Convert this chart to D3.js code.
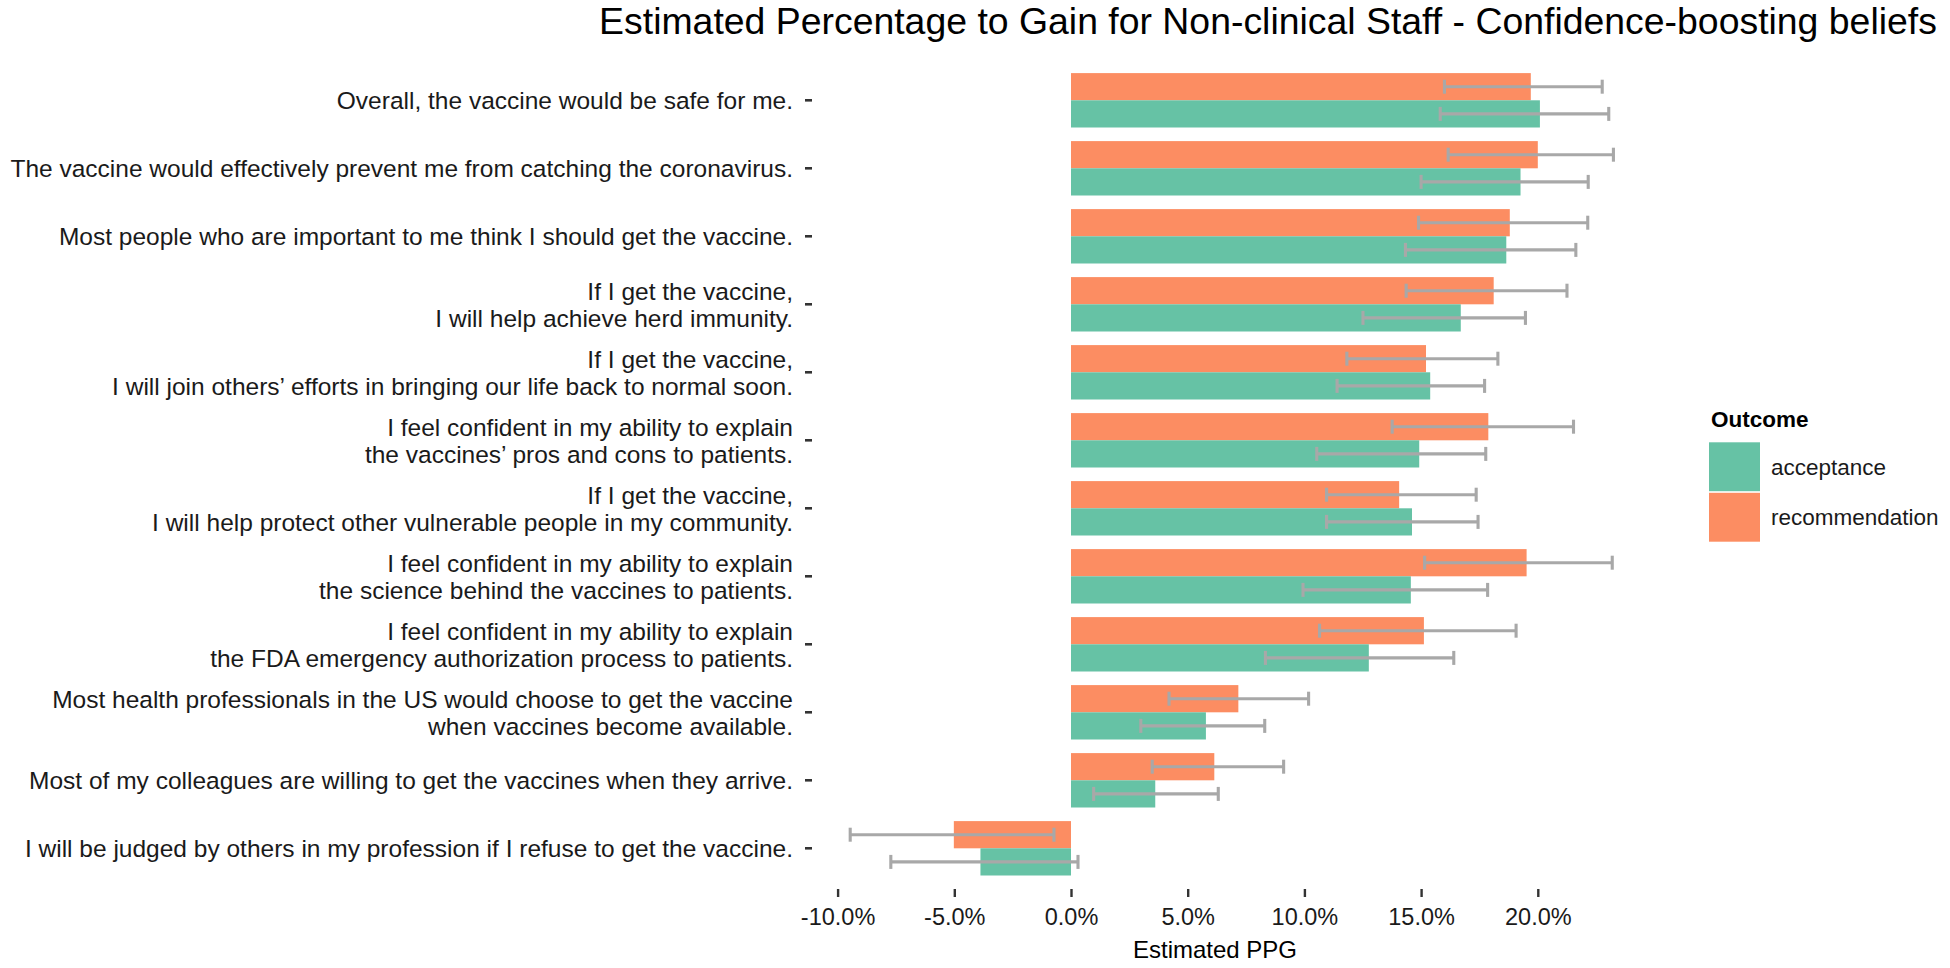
<!DOCTYPE html>
<html>
<head>
<meta charset="utf-8">
<script src="https://cdn.jsdelivr.net/npm/d3@7"></script>
<style>
  html, body { margin: 0; padding: 0; background: #fff; }
  svg { display: block; font-family: "Liberation Sans", Arial, Helvetica, sans-serif; }
</style>
</head>
<body>
<svg id="chart" width="1950" height="968"></svg>
<script>
// ---- data ----
const categories = [
  "Overall, the vaccine would be safe for me.",
  "The vaccine would effectively prevent me from catching the coronavirus.",
  "Most people who are important to me think I should get the vaccine.",
  "If I get the vaccine,\nI will help achieve herd immunity.",
  "If I get the vaccine,\nI will join others’ efforts in bringing our life back to normal soon.",
  "I feel confident in my ability to explain\nthe vaccines’ pros and cons to patients.",
  "If I get the vaccine,\nI will help protect other vulnerable people in my community.",
  "I feel confident in my ability to explain\nthe science behind the vaccines to patients.",
  "I feel confident in my ability to explain\nthe FDA emergency authorization process to patients.",
  "Most health professionals in the US would choose to get the vaccine\nwhen vaccines become available.",
  "Most of my colleagues are willing to get the vaccines when they arrive.",
  "I will be judged by others in my profession if I refuse to get the vaccine."
];
const outcomes = ["acceptance", "recommendation"];
const acceptance     = [20.09, 19.26, 18.65, 16.70, 15.39, 14.92, 14.61, 14.56, 12.76, 5.78, 3.61, -3.88];
const acceptanceLow  = [15.82, 15.00, 14.33, 12.51, 11.40, 10.53, 10.95,  9.94,  8.33, 2.99, 0.97, -7.72];
const acceptanceHigh = [23.04, 22.16, 21.63, 19.47, 17.72, 17.77, 17.44, 17.85, 16.40, 8.30, 6.31,  0.30];
const recommendation     = [19.70, 20.00, 18.80, 18.11, 15.21, 17.88, 14.06, 19.52, 15.12, 7.17, 6.14, -5.02];
const recommendationLow  = [16.00, 16.16, 14.89, 14.36, 11.82, 13.76, 10.95, 15.15, 10.65, 4.20, 3.48, -9.46];
const recommendationHigh = [22.76, 23.24, 22.14, 21.25, 18.29, 21.53, 17.36, 23.19, 19.07, 10.18, 9.11, -0.73];
const xTicks = [-10, -5, 0, 5, 10, 15, 20];
const titleText = "Estimated Percentage to Gain for Non-clinical Staff - Confidence-boosting beliefs";
const xTitle = "Estimated PPG";
const legendTitle = "Outcome";

// ---- build records ----
const rows = [];
categories.forEach((c, i) => {
  rows.push({cat: c, outcome: "recommendation", v: recommendation[i], lo: recommendationLow[i], hi: recommendationHigh[i]});
  rows.push({cat: c, outcome: "acceptance", v: acceptance[i], lo: acceptanceLow[i], hi: acceptanceHigh[i]});
});

const svg = d3.select("#chart");
const FONT = '"Liberation Sans", Arial, Helvetica, sans-serif';

const x = d3.scaleLinear().domain([-10, 20]).range([837.6, 1537.8]);
const y = d3.scaleBand().domain(categories).range([66.3, 882.3]).padding(0);
const inner = d3.scaleBand().domain(["recommendation", "acceptance"])
  .range([0, y.bandwidth() * 0.8]).padding(0);
const color = d3.scaleOrdinal().domain(outcomes).range(["#66C2A5", "#FC8D62"]);

const panelLeft = 812, panelBottom = 889;

// bars
svg.append("g").selectAll("rect").data(rows).join("rect")
  .attr("x", d => Math.min(x(0), x(d.v)))
  .attr("width", d => Math.abs(x(d.v) - x(0)))
  .attr("y", d => y(d.cat) + y.bandwidth() * 0.1 + inner(d.outcome))
  .attr("height", inner.bandwidth())
  .attr("fill", d => color(d.outcome));

// error bars
const capH = 14;
const eg = svg.append("g").attr("stroke", "#A8A8A8").attr("stroke-width", 3.1).attr("fill", "none");
rows.forEach(d => {
  const cy = y(d.cat) + y.bandwidth() * 0.1 + inner(d.outcome) + inner.bandwidth() / 2;
  eg.append("line").attr("x1", x(d.lo)).attr("x2", x(d.hi)).attr("y1", cy).attr("y2", cy);
  eg.append("line").attr("x1", x(d.lo)).attr("x2", x(d.lo)).attr("y1", cy - capH / 2).attr("y2", cy + capH / 2);
  eg.append("line").attr("x1", x(d.hi)).attr("x2", x(d.hi)).attr("y1", cy - capH / 2).attr("y2", cy + capH / 2);
});

// x axis
const xAxis = svg.append("g").attr("transform", `translate(0,${panelBottom})`)
  .call(d3.axisBottom(x).tickValues(xTicks).tickFormat(d => d.toFixed(1) + "%").tickSize(8).tickPadding(8));
xAxis.select(".domain").remove();
xAxis.selectAll(".tick line").attr("stroke", "#333").attr("stroke-width", 2.4);
xAxis.selectAll(".tick text").attr("font-family", FONT).attr("font-size", 23.5).attr("fill", "#1a1a1a")
  .attr("dy", null).attr("y", 36);

// y axis
const yAxis = svg.append("g").attr("transform", `translate(${panelLeft},0)`)
  .call(d3.axisLeft(y).tickSize(7).tickPadding(12).tickFormat(""));
yAxis.select(".domain").remove();
yAxis.selectAll(".tick line").attr("stroke", "#333").attr("stroke-width", 2.6);
yAxis.selectAll(".tick").each(function(d) {
  const g = d3.select(this);
  g.select("text").remove();
  const lines = d.split("\n");
  const t = g.append("text").attr("text-anchor", "end").attr("x", -19)
    .attr("font-family", FONT).attr("font-size", 24.5).attr("fill", "#1a1a1a");
  const lh = 27;
  lines.forEach((ln, k) => {
    t.append("tspan").attr("x", -19)
      .attr("y", 8.8 + (k - (lines.length - 1) / 2) * lh)
      .text(ln);
  });
});

// title
svg.append("text").attr("x", 1268).attr("y", 34).attr("text-anchor", "middle")
  .attr("font-family", FONT).attr("font-size", 37.4).attr("fill", "#000").text(titleText);

// x title
svg.append("text").attr("x", 1215).attr("y", 958).attr("text-anchor", "middle")
  .attr("font-family", FONT).attr("font-size", 24).attr("fill", "#000").text(xTitle);

// legend
const lg = svg.append("g").attr("transform", "translate(1709,0)");
lg.append("text").attr("x", 2).attr("y", 427).attr("font-family", FONT).attr("font-size", 22.5)
  .attr("font-weight", "bold").attr("fill", "#000").text(legendTitle);
const keyTop = d3.scaleBand().domain(outcomes).range([441.5, 542.5]);
outcomes.forEach(o => {
  lg.append("rect").attr("x", 0).attr("y", keyTop(o) + 0.8).attr("width", 51).attr("height", keyTop.bandwidth() - 1.6)
    .attr("fill", color(o));
  lg.append("text").attr("x", 62).attr("y", keyTop(o) + keyTop.bandwidth() / 2 + 8)
    .attr("font-family", FONT).attr("font-size", 22.5).attr("fill", "#1a1a1a").text(o);
});
</script>
</body>
</html>
